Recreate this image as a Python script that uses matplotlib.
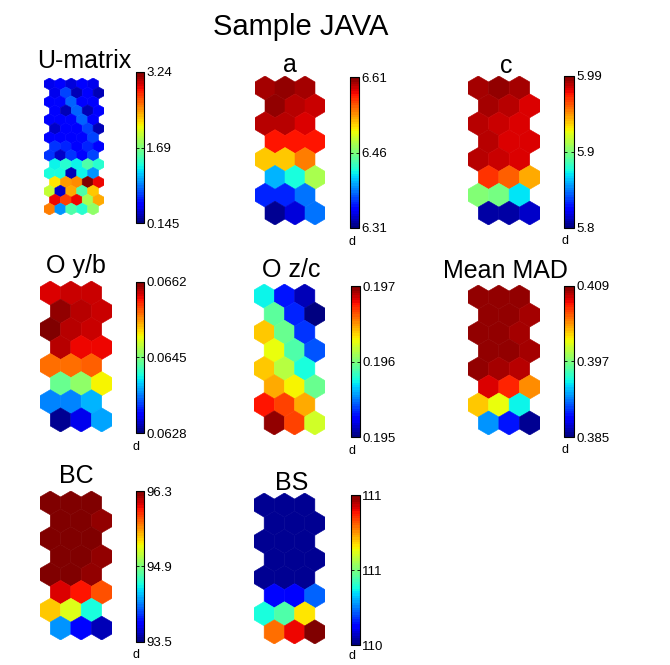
import numpy as np
import matplotlib
matplotlib.use("Agg")
import matplotlib.pyplot as plt
from matplotlib.collections import PolyCollection
from matplotlib.colors import Normalize
from matplotlib.cm import ScalarMappable

plt.rcParams['font.family'] = ['Liberation Sans', 'DejaVu Sans']

# ---------------- data ----------------
main_title = "Sample JAVA"

names = ["U-matrix", "a", "c", "O y/b", "O z/c", "Mean MAD", "BC", "BS"]

umatrix = [
    [0.455, 0.516, 0.393, 0.516, 0.455],
    [0.455, 0.764, 0.331, 0.516, 0.331],
    [0.516, 0.578, 0.826, 0.516, 0.516],
    [0.516, 0.331, 0.826, 0.331, 0.516],
    [0.516, 0.516, 0.547, 0.826, 0.516],
    [0.362, 0.516, 0.516, 0.764, 0.331],
    [0.516, 0.516, 0.516, 0.547, 0.764],
    [0.702, 0.640, 0.516, 0.640, 0.516],
    [0.702, 0.362, 0.702, 0.516, 0.764],
    [1.259, 1.383, 1.259, 1.538, 1.383],
    [1.321, 1.321, 0.331, 1.259, 1.012],
    [2.188, 2.435, 2.497, 3.240, 2.931],
    [1.940, 0.362, 2.373, 1.538, 2.312],
    [2.931, 2.745, 2.931, 1.847, 2.373],
    [2.559, 1.012, 1.538, 1.383, 1.754],
]

a_vals = [
    [6.598, 6.601, 6.598],
    [6.601, 6.595, 6.589],
    [6.595, 6.592, 6.586],
    [6.577, 6.574, 6.574],
    [6.517, 6.517, 6.541],
    [6.403, 6.424, 6.478],
    [6.358, 6.361, 6.382],
    [6.319, 6.337, 6.382],
]

c_vals = [
    [5.984, 5.986, 5.982],
    [5.982, 5.981, 5.975],
    [5.981, 5.977, 5.975],
    [5.981, 5.975, 5.973],
    [5.979, 5.977, 5.973],
    [5.962, 5.952, 5.937],
    [5.897, 5.895, 5.868],
    [5.806, 5.808, 5.813],
]

oyb_vals = [
    [0.06593, 0.06596, 0.06596],
    [0.06610, 0.06600, 0.06596],
    [0.06620, 0.06603, 0.06596],
    [0.06600, 0.06586, 0.06586],
    [0.06549, 0.06549, 0.06552],
    [0.06440, 0.06457, 0.06501],
    [0.06368, 0.06368, 0.06385],
    [0.06287, 0.06314, 0.06379],
]

ozc_vals = [
    [0.19572, 0.19530, 0.19510],
    [0.19592, 0.19534, 0.19502],
    [0.19638, 0.19594, 0.19536],
    [0.19628, 0.19588, 0.19542],
    [0.19640, 0.19614, 0.19576],
    [0.19646, 0.19630, 0.19594],
    [0.19676, 0.19666, 0.19644],
    [0.19696, 0.19668, 0.19620],
]

mad_vals = [
    [0.4083, 0.4085, 0.4083],
    [0.4085, 0.4083, 0.4080],
    [0.4083, 0.4083, 0.4080],
    [0.4085, 0.4083, 0.4080],
    [0.4083, 0.4080, 0.4078],
    [0.4071, 0.4059, 0.4032],
    [0.4018, 0.4001, 0.3939],
    [0.3917, 0.3886, 0.3855],
]

bc_vals = [
    [96.27, 96.27, 96.27],
    [96.27, 96.27, 96.24],
    [96.27, 96.27, 96.27],
    [96.27, 96.27, 96.24],
    [96.27, 96.27, 96.24],
    [96.05, 95.99, 95.80],
    [95.46, 95.24, 94.56],
    [94.28, 93.86, 93.64],
]

bs_vals = [
    [110.318, 110.318, 110.318],
    [110.318, 110.318, 110.318],
    [110.318, 110.318, 110.318],
    [110.318, 110.318, 110.318],
    [110.318, 110.318, 110.318],
    [110.378, 110.366, 110.432],
    [110.528, 110.564, 110.696],
    [110.774, 110.840, 110.894],
]

panel_values = [umatrix, a_vals, c_vals, oyb_vals, ozc_vals, mad_vals, bc_vals, bs_vals]

value_min = [0.145, 6.31, 5.80, 0.0628, 0.195, 0.385, 93.5, 110.3]
value_max = [3.24, 6.61, 5.99, 0.0662, 0.197, 0.409, 96.3, 110.9]

cbar_labels = [
    ["0.145", "1.69", "3.24"],
    ["6.31", "6.46", "6.61"],
    ["5.8", "5.9", "5.99"],
    ["0.0628", "0.0645", "0.0662"],
    ["0.195", "0.196", "0.197"],
    ["0.385", "0.397", "0.409"],
    ["93.5", "94.9", "96.3"],
    ["110", "111", "111"],
]
show_unit = [False, True, True, True, True, True, True, True]
unit_text = "d"

# ---------------- layout (pixels) ----------------
W, H = 670, 665
hex_boxes = [(44, 78, 104, 215), (255, 76, 325, 225), (468, 76, 540, 225),
             (40, 281, 112, 432), (254, 284, 325, 435), (468, 285, 540, 435),
             (40, 491, 112, 640), (254, 493, 325, 644)]
cbar_boxes = [(136, 72, 144, 223), (350, 77, 359, 228), (564, 76, 574, 228),
              (136, 282, 144, 433), (351, 286, 360, 437), (564, 286, 574, 437),
              (136, 491, 144, 642), (351, 495, 360, 645)]
title_pos = [(84, 68), (290, 72), (506, 73), (76, 273), (291, 277), (505, 278),
             (76, 483), (292, 490)]
unit_pos = [None, (352, 242), (565, 241), (136, 447), (352, 451), (565, 450),
            (136, 655), (352, 656)]


def rect(x0, y0, x1, y1):
    return [x0 / W, 1 - y1 / H, (x1 - x0) / W, (y1 - y0) / H]


fig = plt.figure(figsize=(6.7, 6.65), dpi=100)
fig.patch.set_facecolor("white")

fig.text(301 / W, 1 - 35 / H, main_title, ha="center", va="baseline",
         fontsize=21, color="black")

cmap = plt.get_cmap("jet", 64)
r = 1 / np.sqrt(3)
ang = np.deg2rad(90 + 60 * np.arange(6))
hx = r * np.cos(ang)
hy = r * np.sin(ang)
dy = np.sqrt(0.75)

for k in range(len(names)):
    vals = np.array(panel_values[k], dtype=float)
    nrows, ncols = vals.shape
    verts = []
    cvals = []
    for i in range(nrows):
        for j in range(ncols):
            cx = j + 0.5 * (i % 2)
            cy = -i * dy
            verts.append(np.column_stack([cx + hx, cy + hy]))
            cvals.append(vals[i, j])
    norm = Normalize(vmin=value_min[k], vmax=value_max[k])
    ax = fig.add_axes(rect(*hex_boxes[k]))
    pc = PolyCollection(verts, array=np.array(cvals), cmap=cmap, norm=norm,
                        edgecolors="face", linewidths=0.4)
    ax.add_collection(pc)
    ax.set_xlim(-0.5, ncols)
    ax.set_ylim(-(nrows - 1) * dy - r, r)
    ax.set_axis_off()

    cax = fig.add_axes(rect(*cbar_boxes[k]))
    sm = ScalarMappable(norm=norm, cmap=cmap)
    cb = fig.colorbar(sm, cax=cax)
    mid = 0.5 * (value_min[k] + value_max[k])
    cb.set_ticks([value_min[k], mid, value_max[k]])
    cb.set_ticklabels(cbar_labels[k])
    cb.outline.set_linewidth(0.8)
    cax.tick_params(axis="y", direction="in", length=2, width=0.6,
                    pad=1.5, labelsize=9.5, left=True, right=True)

    tx, ty = title_pos[k]
    fig.text(tx / W, 1 - ty / H, names[k], ha="center", va="baseline",
             fontsize=18, color="black")

    if show_unit[k]:
        ux, uy = unit_pos[k]
        fig.text(ux / W, 1 - uy / H, unit_text, ha="center", va="center",
                 fontsize=9, color="black")

fig.savefig("out.png", dpi=100, facecolor="white")
